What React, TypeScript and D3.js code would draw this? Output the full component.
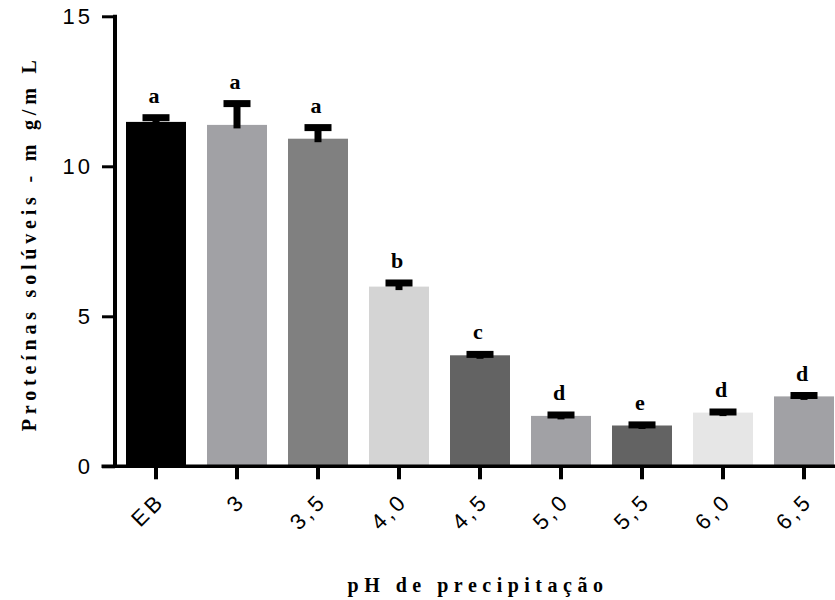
import { useEffect, useRef } from 'react';
import * as d3 from 'd3';

const CATEGORIES = ['EB', '3', '3,5', '4,0', '4,5', '5,0', '5,5', '6,0', '6,5'];
const MEANS = [11.48, 11.38, 10.92, 5.99, 3.7, 1.68, 1.36, 1.79, 2.33];
const SD = [0.14, 0.71, 0.37, 0.12, 0.03, 0.03, 0.02, 0.02, 0.03];
const LETTERS = ['a', 'a', 'a', 'b', 'c', 'd', 'e', 'd', 'd'];
const FILLS = ['#000000', '#a1a1a5', '#808080', '#d4d4d4', '#636363', '#a1a1a5', '#636363', '#e6e6e6', '#a1a1a5'];
const Y_TICKS = [0, 5, 10, 15];

const WIDTH = 835;
const HEIGHT = 600;

const SANS = '"Liberation Sans", Arial, sans-serif';
const SERIF = '"Liberation Serif", "Times New Roman", serif';

export default function App() {
  const svgRef = useRef<SVGSVGElement>(null);

  useEffect(() => {
    if (!svgRef.current) return;
    const svg = d3.select(svgRef.current);
    svg.selectAll('*').remove();

    const y = d3.scaleLinear().domain([0, 15]).range([466.3, 16.3]);
    const x = d3
      .scaleBand<string>()
      .domain(CATEGORIES)
      .range([115.5, 115.5 + 81 * 9])
      .paddingInner(21 / 81)
      .paddingOuter(10.5 / 81);

    const data = CATEGORIES.map((c, i) => ({
      cat: c,
      mean: MEANS[i],
      sd: SD[i],
      letter: LETTERS[i],
      fill: FILLS[i],
    }));

    // bars
    svg
      .append('g')
      .selectAll('rect')
      .data(data)
      .join('rect')
      .attr('x', (d) => x(d.cat)!)
      .attr('y', (d) => y(d.mean))
      .attr('width', x.bandwidth())
      .attr('height', (d) => y(0) - y(d.mean))
      .attr('fill', (d) => d.fill);

    // error bars (mean + SD)
    const eb = svg.append('g').selectAll('g').data(data).join('g');
    eb.append('rect')
      .attr('x', (d) => x(d.cat)! + x.bandwidth() / 2 - 3.5)
      .attr('y', (d) => y(d.mean + d.sd))
      .attr('width', 7)
      .attr('height', (d) => y(d.mean) - y(d.mean + d.sd) + 3.5)
      .attr('fill', '#000');
    eb.append('rect')
      .attr('x', (d) => x(d.cat)! + x.bandwidth() / 2 - 13.5)
      .attr('y', (d) => y(d.mean + d.sd) - 3.5)
      .attr('width', 27)
      .attr('height', 7)
      .attr('fill', '#000');

    // significance letters
    svg
      .append('g')
      .selectAll('text')
      .data(data)
      .join('text')
      .attr('x', (d) => x(d.cat)! + x.bandwidth() / 2 - 2)
      .attr('y', (d) => y(d.mean + d.sd) - 15)
      .attr('text-anchor', 'middle')
      .style('font-family', SERIF)
      .style('font-weight', 'bold')
      .style('font-size', '22px')
      .text((d) => d.letter);

    // y axis
    const yAxis = svg
      .append('g')
      .attr('transform', 'translate(115,0)')
      .call(d3.axisLeft(y).tickValues(Y_TICKS).tickSize(13).tickSizeOuter(0).tickPadding(12));
    yAxis.select('.domain').attr('stroke', '#000').attr('stroke-width', 4).attr('d', `M0,${y(15) - 1.5}V${y(0) + 1.5}`);
    yAxis.selectAll('.tick line').attr('stroke', '#000').attr('stroke-width', 3);
    yAxis
      .selectAll('.tick text')
      .attr('fill', '#000')
      .style('font-family', SANS)
      .style('font-size', '22px')
      .style('letter-spacing', '3px')
      .attr('dx', '3px');

    // x axis
    const xAxis = svg
      .append('g')
      .attr('transform', `translate(0,${y(0)})`)
      .call(d3.axisBottom(x).tickSize(13).tickSizeOuter(0));
    xAxis.select('.domain').remove();
    xAxis
      .append('line')
      .attr('x1', 101.5)
      .attr('x2', WIDTH)
      .attr('stroke', '#000')
      .attr('stroke-width', 3.5);
    xAxis.selectAll('.tick line').attr('stroke', '#000').attr('stroke-width', 4);
    xAxis
      .selectAll('.tick text')
      .attr('fill', '#000')
      .attr('y', 0)
      .attr('dy', 0)
      .attr('text-anchor', 'end')
      .attr('transform', 'translate(10,36) rotate(-45)')
      .style('font-family', SANS)
      .style('font-size', '22px')
      .style('letter-spacing', '3.5px');

    // axis titles
    svg
      .append('text')
      .attr('transform', `translate(36,${(y(0) + y(15)) / 2 + 2}) rotate(-90)`)
      .attr('text-anchor', 'middle')
      .style('font-family', SERIF)
      .style('font-weight', 'bold')
      .style('font-size', '20px')
      .style('letter-spacing', '4.8px')
      .text('Proteínas solúveis - m g/m L');

    svg
      .append('text')
      .attr('x', 478)
      .attr('y', 592)
      .attr('text-anchor', 'middle')
      .style('font-family', SERIF)
      .style('font-weight', 'bold')
      .style('font-size', '20px')
      .style('letter-spacing', '5.5px')
      .text('pH de precipitação');
  }, []);

  return (
    <svg
      ref={svgRef}
      width={WIDTH}
      height={HEIGHT}
      style={{ position: 'absolute', left: 0, top: 0, background: '#fff' }}
    />
  );
}
